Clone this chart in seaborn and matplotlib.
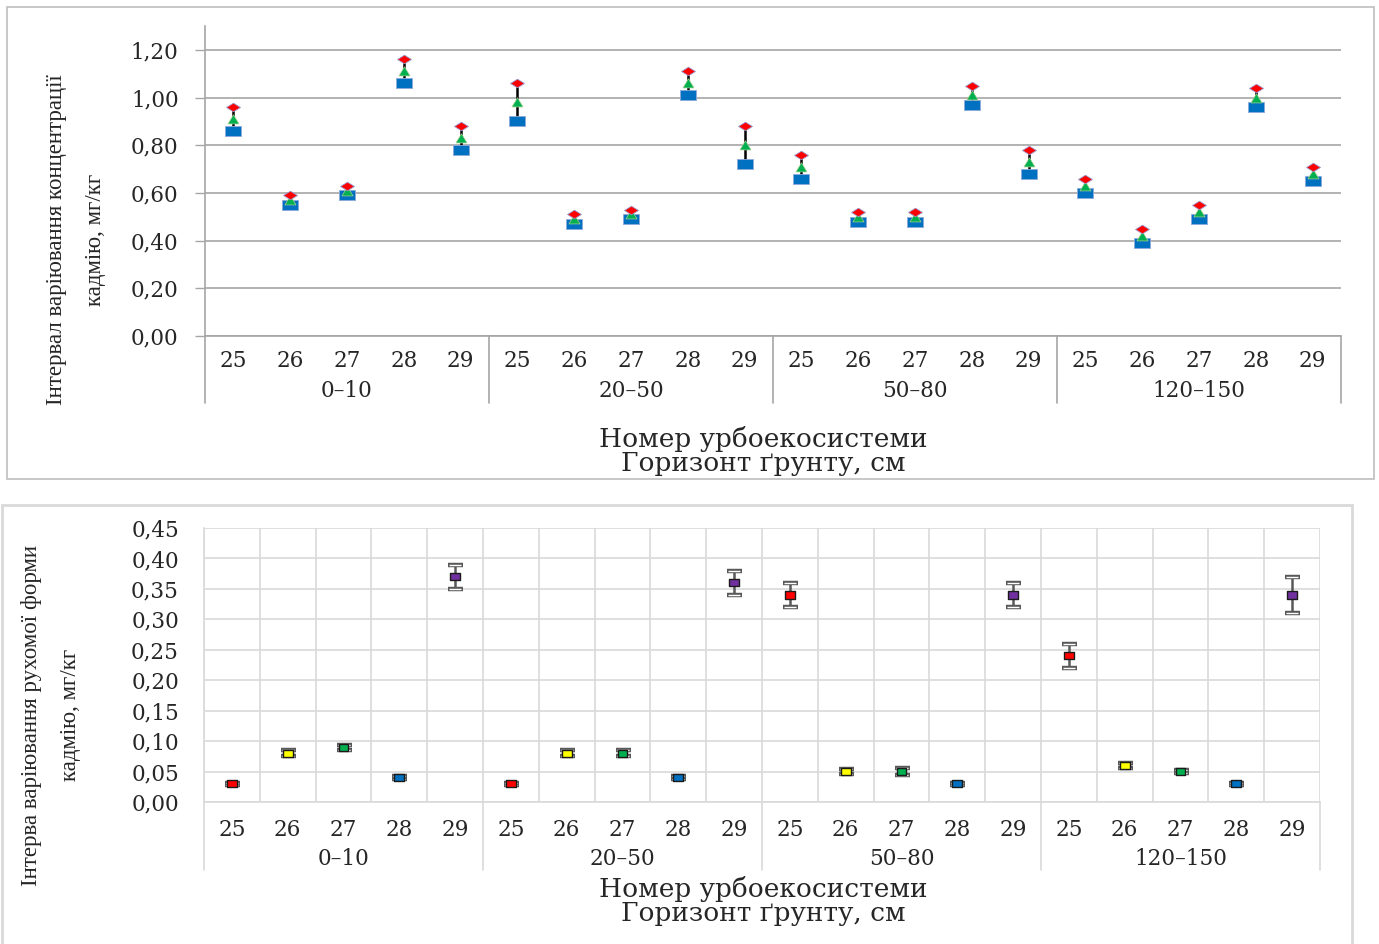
import matplotlib
matplotlib.use("Agg")
import matplotlib.pyplot as plt
from matplotlib.path import Path
from matplotlib.patches import Rectangle
import matplotlib.transforms as mtransforms
import seaborn as sns
import pandas as pd
import numpy as np

# ---------------- data ----------------
systems = ["25", "26", "27", "28", "29"]
horizons = ["0–10", "20–50", "50–80", "120–150"]

top_max = [0.96, 0.59, 0.63, 1.16, 0.88,
           1.06, 0.51, 0.53, 1.11, 0.88,
           0.76, 0.52, 0.52, 1.05, 0.78,
           0.66, 0.45, 0.55, 1.04, 0.71]
top_mean = [0.91, 0.57, 0.61, 1.11, 0.83,
            0.98, 0.49, 0.51, 1.06, 0.80,
            0.71, 0.50, 0.50, 1.01, 0.73,
            0.63, 0.42, 0.52, 1.00, 0.68]
top_min = [0.86, 0.55, 0.59, 1.06, 0.78,
           0.90, 0.47, 0.49, 1.01, 0.72,
           0.66, 0.48, 0.48, 0.97, 0.68,
           0.60, 0.39, 0.49, 0.96, 0.65]

bottom_mean = [0.03, 0.08, 0.09, 0.04, 0.37,
               0.03, 0.08, 0.08, 0.04, 0.36,
               0.34, 0.05, 0.05, 0.03, 0.34,
               0.24, 0.06, 0.05, 0.03, 0.34]
bottom_err = [0.002, 0.005, 0.004, 0.002, 0.02,
              0.002, 0.005, 0.005, 0.002, 0.02,
              0.02, 0.004, 0.006, 0.002, 0.02,
              0.02, 0.004, 0.003, 0.002, 0.03]

top_yticks = [0.0, 0.2, 0.4, 0.6, 0.8, 1.0, 1.2]
bottom_yticks = [0.0, 0.05, 0.10, 0.15, 0.20, 0.25, 0.30, 0.35, 0.40, 0.45]

top_ylabel = "Інтервал варіювання концентрації\nкадмію, мг/кг"
bottom_ylabel = "Інтерва варіювання рухомої форми\nкадмію, мг/кг"
xlabel = "Номер урбоекосистеми\nГоризонт ґрунту, см"

system_colors = {"25": "#FF0000", "26": "#FFFF00", "27": "#00B050",
                 "28": "#0070C0", "29": "#7030A0"}

# ---------------- frames ----------------
n = len(horizons) * len(systems)
pos = np.arange(n)
sys_lab = systems * len(horizons)
df_top = pd.DataFrame({"pos": pos, "system": sys_lab,
                       "max": top_max, "mean": top_mean, "min": top_min})
df_bot = pd.DataFrame({"pos": pos, "system": sys_lab,
                       "mean": bottom_mean, "err": bottom_err})

sns.set_theme(style="white")
plt.rcParams["font.family"] = ["DejaVu Serif"]
TXT = "#262626"
TICK_FS = 15.5

fig = plt.figure(figsize=(13.79, 9.44), dpi=100)

# panel frames
fig.patches.append(Rectangle((7 / 1379, 1 - 479 / 944), (1374 - 7) / 1379, (479 - 7) / 944,
                             transform=fig.transFigure, fill=False, edgecolor="#BFBFBF", lw=1.2))
fig.patches.append(Rectangle((2 / 1379, -0.02), (1352 - 2) / 1379, 0.02 + (944 - 505) / 944,
                             transform=fig.transFigure, fill=False, edgecolor="#D9D9D9", lw=2))

# ---------------- top chart ----------------
ax1 = fig.add_axes([205 / 1379, 1 - 336 / 944, (1341 - 205) / 1379, (336 - 26) / 944])
ax1.set_xlim(-0.5, n - 0.5)
ax1.set_ylim(0, 1.30)

def rect_path(w, h):
    return Path([(-w, -h), (w, -h), (w, h), (-w, h), (-w, -h)],
                [Path.MOVETO, Path.LINETO, Path.LINETO, Path.LINETO, Path.CLOSEPOLY])

diamond = Path([(-1, 0), (0, 0.62), (1, 0), (0, -0.62), (-1, 0)],
               [Path.MOVETO, Path.LINETO, Path.LINETO, Path.LINETO, Path.CLOSEPOLY])
triangle = Path([(-1, -0.8), (1, -0.8), (0, 0.85), (-1, -0.8)],
                [Path.MOVETO, Path.LINETO, Path.LINETO, Path.CLOSEPOLY])
square = rect_path(1, 0.62)

ax1.vlines(df_top["pos"], df_top["min"], df_top["max"], color="black", lw=1.8, zorder=2)
sns.scatterplot(data=df_top, x="pos", y="min", marker=square, s=125, color="#0070C0",
                edgecolor="#8EA9DB", linewidth=0.6, ax=ax1, zorder=3, legend=False)
sns.scatterplot(data=df_top, x="pos", y="mean", marker=triangle, s=64, color="#00B050",
                edgecolor="#A9D18E", linewidth=0.5, ax=ax1, zorder=4, legend=False)
sns.scatterplot(data=df_top, x="pos", y="max", marker=diamond, s=100, color="#FF0000",
                edgecolor="#9999CC", linewidth=0.6, ax=ax1, zorder=5, legend=False)

ax1.set_yticks(top_yticks, [f"{v:.2f}".replace(".", ",") for v in top_yticks])
ax1.yaxis.grid(True, color="#A6A6A6", lw=1.2)
ax1.xaxis.grid(False)
ax1.set_xticks(pos, sys_lab)
ax1.tick_params(axis="x", length=0, pad=10, labelsize=TICK_FS, labelcolor=TXT)
ax1.tick_params(axis="y", length=7, width=1, color="#A6A6A6", pad=12, labelsize=TICK_FS,
                labelcolor=TXT, left=True)
for s in ["top", "right"]:
    ax1.spines[s].set_visible(False)
for s in ["left", "bottom"]:
    ax1.spines[s].set_color("#A6A6A6")
    ax1.spines[s].set_linewidth(1.2)
ax1.set_xlabel("")
ax1.set_ylabel("")

trans1 = mtransforms.blended_transform_factory(ax1.transData, ax1.transAxes)
for b in np.arange(-0.5, n, len(systems)):
    ax1.plot([b, b], [0, -67 / 310], color="#A6A6A6", lw=1.2, transform=trans1, clip_on=False)
for i, h in enumerate(horizons):
    ax1.text(i * len(systems) + 2, -55 / 310, h, transform=trans1, ha="center", va="center",
             fontsize=TICK_FS, color=TXT)

fig.text(763 / 1379, 1 - 451 / 944, xlabel, ha="center", va="center", fontsize=19,
         color=TXT, linespacing=0.98)
fig.text(76 / 1379, 1 - 240 / 944, top_ylabel, ha="center", va="center", rotation=90,
         fontsize=16.5, family=["Liberation Serif"], color=TXT, multialignment="center",
         linespacing=2.15)

# ---------------- bottom chart ----------------
ax2 = fig.add_axes([204 / 1379, 1 - 802 / 944, (1320 - 204) / 1379, (802 - 528) / 944])
ax2.set_xlim(-0.5, n - 0.5)
ax2.set_ylim(0, 0.45)

ax2.errorbar(df_bot["pos"], df_bot["mean"], yerr=df_bot["err"], fmt="none",
             ecolor="#595959", elinewidth=1.8, capsize=5.4, capthick=3.2, zorder=3)
ax2.errorbar(df_bot["pos"], df_bot["mean"], yerr=df_bot["err"], fmt="none",
             ecolor="#FFFFFF", elinewidth=0, capsize=4.6, capthick=1.0, zorder=3.5)
sns.scatterplot(data=df_bot, x="pos", y="mean", hue="system", palette=system_colors,
                marker=rect_path(1, 0.75), s=48, edgecolor="#1a1a1a", linewidth=1.0,
                ax=ax2, zorder=5, legend=False)

ax2.set_yticks(bottom_yticks, [f"{v:.2f}".replace(".", ",") for v in bottom_yticks])
ax2.set_xticks(pos, sys_lab)
ax2.set_xticks(np.arange(-0.5, n, 1), minor=True)
ax2.yaxis.grid(True, color="#D9D9D9", lw=1.2)
ax2.xaxis.grid(True, which="minor", color="#D9D9D9", lw=1.2)
ax2.xaxis.grid(False, which="major")
ax2.tick_params(axis="x", which="both", length=0, pad=12, labelsize=TICK_FS, labelcolor=TXT)
ax2.tick_params(axis="y", length=0, pad=18, labelsize=TICK_FS, labelcolor=TXT)
for s in ["top", "right"]:
    ax2.spines[s].set_visible(False)
for s in ["left", "bottom"]:
    ax2.spines[s].set_color("#D9D9D9")
    ax2.spines[s].set_linewidth(1.2)
ax2.set_xlabel("")
ax2.set_ylabel("")

trans2 = mtransforms.blended_transform_factory(ax2.transData, ax2.transAxes)
for b in np.arange(-0.5, n, len(systems)):
    ax2.plot([b, b], [0, -68 / 274], color="#D9D9D9", lw=1.2, transform=trans2, clip_on=False)
for i, h in enumerate(horizons):
    ax2.text(i * len(systems) + 2, -57 / 274, h, transform=trans2, ha="center", va="center",
             fontsize=TICK_FS, color=TXT)

fig.text(763 / 1379, 1 - 901 / 944, xlabel, ha="center", va="center", fontsize=19,
         color=TXT, linespacing=0.98)
fig.text(51 / 1379, 1 - 715 / 944, bottom_ylabel, ha="center", va="center", rotation=90,
         fontsize=16.5, family=["Liberation Serif"], color=TXT, multialignment="center",
         linespacing=2.15)

fig.savefig("out.png", dpi=100)
